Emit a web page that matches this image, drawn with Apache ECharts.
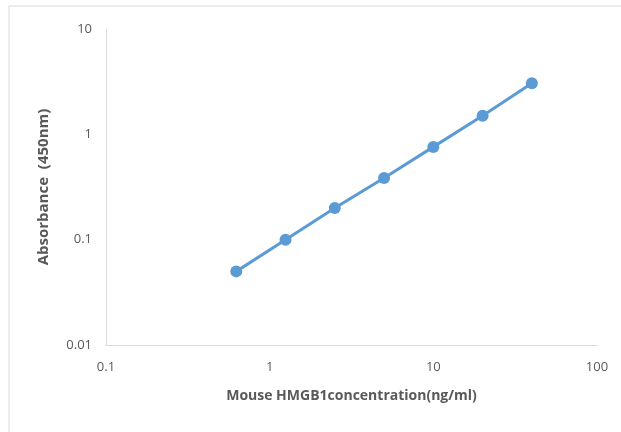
<!DOCTYPE html>
<html style="height: 100%">
<head>
    <meta charset="utf-8">
</head>
<body style="height: 100%; margin: 0; background: #fff">
<div id="container" style="width: 621px; height: 432px"></div>
<script type="text/javascript" src="https://cdn.jsdelivr.net/npm/echarts@6/dist/echarts.min.js"></script>
<script type="text/javascript">
    // standard curve
    var concentration = [0.625, 1.25, 2.5, 5, 10, 20, 40];
    var absorbance = [0.05, 0.1, 0.2, 0.385, 0.76, 1.5, 3.05];

    var dom = document.getElementById("container");
    var myChart = echarts.init(dom);

    var points = concentration.map(function (c, i) {
        return [c, absorbance[i]];
    });

    var labelFont = {
        color: '#595959',
        fontFamily: 'Open Sans',
        fontSize: 13
    };

    var option = {
        animation: false,
        backgroundColor: '#fff',
        graphic: [{
            type: 'rect',
            shape: { x: 9, y: 6, width: 700, height: 500 },
            style: { fill: 'none', stroke: '#d9d9d9', lineWidth: 1 }
        }],
        grid: {
            left: 106,
            right: 24,
            top: 29,
            bottom: 87
        },
        xAxis: {
            type: 'log',
            logBase: 10,
            min: 0.1,
            max: 100,
            name: 'Mouse HMGB1concentration(ng/ml)',
            nameLocation: 'middle',
            nameGap: 44,
            nameTextStyle: {
                color: '#595959',
                fontFamily: 'Open Sans',
                fontWeight: 'bold',
                fontSize: 14
            },
            axisLine: { lineStyle: { color: '#d9d9d9', width: 1 } },
            axisTick: { show: false },
            splitLine: { show: false },
            minorTick: { show: false },
            axisLabel: Object.assign({ margin: 16 }, labelFont)
        },
        yAxis: {
            type: 'log',
            logBase: 10,
            min: 0.01,
            max: 10,
            name: 'Absorbance  (450nm)',
            nameLocation: 'middle',
            nameGap: 55,
            nameTextStyle: {
                color: '#595959',
                fontFamily: 'Open Sans',
                fontWeight: 'bold',
                fontSize: 15
            },
            axisLine: { show: true, lineStyle: { color: '#d9d9d9', width: 1 } },
            axisTick: { show: false },
            splitLine: { show: false },
            axisLabel: Object.assign({ margin: 14 }, labelFont)
        },
        series: [{
            type: 'line',
            data: points,
            symbol: 'circle',
            symbolSize: 12,
            lineStyle: { color: '#5b9bd5', width: 3 },
            itemStyle: { color: '#5b9bd5' }
        }]
    };

    myChart.setOption(option);
</script>
</body>
</html>
